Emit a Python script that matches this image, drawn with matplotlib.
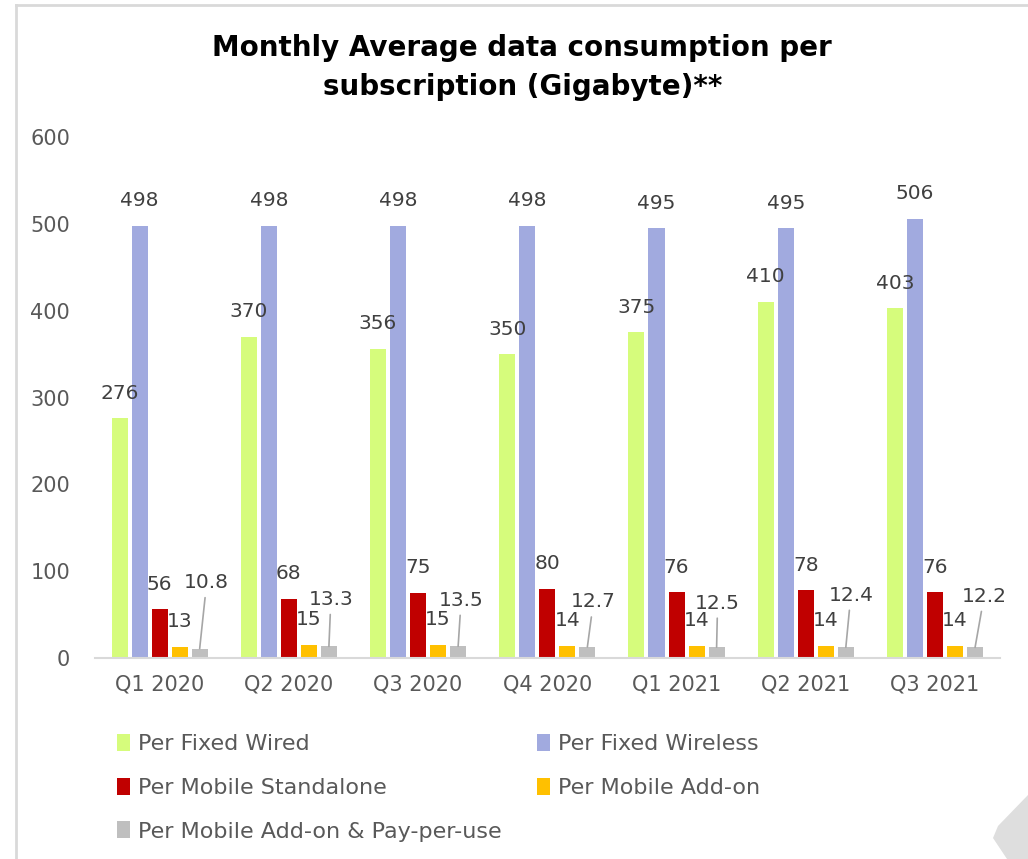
import matplotlib
matplotlib.use("Agg")
import matplotlib.pyplot as plt
import numpy as np
from matplotlib.patches import Polygon
from matplotlib.lines import Line2D

quarters = ["Q1 2020", "Q2 2020", "Q3 2020", "Q4 2020", "Q1 2021", "Q2 2021", "Q3 2021"]
fixed_wired = [276, 370, 356, 350, 375, 410, 403]
fixed_wireless = [498, 498, 498, 498, 495, 495, 506]
mobile_standalone = [56, 68, 75, 80, 76, 78, 76]
mobile_addon = [13, 15, 15, 14, 14, 14, 14]
addon_payperuse = [10.8, 13.3, 13.5, 12.7, 12.5, 12.4, 12.2]

series_names = ["Per Fixed Wired", "Per Fixed Wireless", "Per Mobile Standalone",
                "Per Mobile Add-on", "Per Mobile Add-on & Pay-per-use"]
series_colors = ["#D6FC7C", "#A1AADF", "#C00000", "#FFC000", "#BFBFBF"]

# where the pay-per-use labels sit, pixels from the top of their bar
payperuse_label_offsets = [(7, 66), (2, 47), (3, 46), (6, 45), (1, 44), (5, 52), (9, 51)]

label_color = "#404040"
tick_color = "#595959"
font = "DejaVu Sans"

fig = plt.figure(figsize=(10.28, 8.59), dpi=100)
ax = fig.add_axes([0.0924, 0.234, 0.880, 0.6065])

x = np.arange(len(quarters))
step = 0.155
width = 0.124
all_series = [fixed_wired, fixed_wireless, mobile_standalone, mobile_addon, addon_payperuse]
handles = []
for i, (vals, name, col) in enumerate(zip(all_series, series_names, series_colors)):
    pos = x + (i - 2) * step
    bars = ax.bar(pos, vals, width, color=col, label=name)
    handles.append(bars)
    for j, (px, v) in enumerate(zip(pos, vals)):
        txt = f"{v:g}"
        if i == 4:
            dx, dy = payperuse_label_offsets[j]
            ax.annotate(txt, xy=(px, v), xytext=(dx, dy), textcoords="offset pixels",
                        ha="center", va="center", fontsize=14.5, color=label_color,
                        family=font,
                        arrowprops=dict(arrowstyle="-", color="#A6A6A6", lw=1.2,
                                        shrinkA=2, shrinkB=0))
        else:
            ax.annotate(txt, xy=(px, v), xytext=(0, 25), textcoords="offset pixels",
                        ha="center", va="center", fontsize=14.5, color=label_color,
                        family=font)

ax.set_xlim(-0.5, len(quarters) - 0.5)
ax.set_ylim(0, 600)
ax.set_yticks(range(0, 601, 100))
ax.set_xticks(x)
ax.set_xticklabels(quarters)
ax.tick_params(axis="both", length=0, labelsize=15, colors=tick_color)
ax.tick_params(axis="x", pad=12)
ax.tick_params(axis="y", pad=18)
for lbl in ax.get_xticklabels() + ax.get_yticklabels():
    lbl.set_family(font)
for side in ["top", "right", "left"]:
    ax.spines[side].set_visible(False)
ax.spines["bottom"].set_color("#D9D9D9")
ax.spines["bottom"].set_linewidth(1.5)

fig.text(0.508, 0.922, "Monthly Average data consumption per\nsubscription (Gigabyte)**",
         ha="center", va="center", fontsize=20, fontweight="bold", family=font,
         linespacing=1.5, color="black")

# legend filled by column, so order handles to read across rows
order = [0, 2, 4, 1, 3]
leg = fig.legend([handles[k] for k in order], [series_names[k] for k in order],
                 loc="upper left", ncol=2, frameon=False, fontsize=16,
                 handlelength=0.6, handleheight=0.8, handletextpad=0.35,
                 columnspacing=1.6, labelspacing=1.05,
                 bbox_to_anchor=(0.094, 0.1685), bbox_transform=fig.transFigure)
for t in leg.get_texts():
    t.set_color(tick_color)
    t.set_family(font)

# slide frame and corner shape
fig.add_artist(Line2D([16 / 1028, 16 / 1028], [0, 1 - 5 / 859], color="#D9D9D9", lw=2,
                      transform=fig.transFigure))
fig.add_artist(Line2D([16 / 1028, 1], [1 - 5 / 859, 1 - 5 / 859], color="#D9D9D9", lw=2,
                      transform=fig.transFigure))
corner = [(1028, 795), (998, 826), (993, 838), (1007, 859), (1028, 859)]
fig.add_artist(Polygon([(px / 1028, 1 - py / 859) for px, py in corner], closed=True,
                       facecolor="#DEDEDE", edgecolor="none", transform=fig.transFigure))

fig.savefig("out.png", dpi=100)
